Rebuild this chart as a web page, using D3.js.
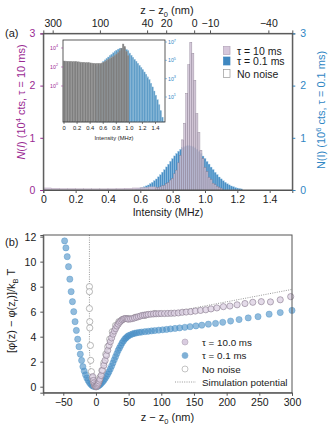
<!DOCTYPE html>
<html><head><meta charset="utf-8">
<script src="https://cdn.jsdelivr.net/npm/d3@7"></script>
<style>body{margin:0;background:#fff}svg{display:block}text{font-family:"Liberation Sans",Arial,sans-serif}</style>
</head><body><svg id="c" width="333" height="437"></svg>
<script>
// ---------------- DATA ----------------
// (a) main histograms, bin width 0.0125 MHz
const binW = 0.0125;
const blueFirstCenter = 0.575;   // tau = 0.1 ms, units 1e6 cts
const blueCounts = [0.022,0.029,0.038,0.047,0.061,0.079,0.096,0.121,0.146,0.178,0.211,0.252,0.292,0.341,0.388,0.442,0.493,0.549,0.600,0.653,0.698,0.741,0.778,0.811,0.831,0.846,0.851,0.844,0.833,0.808,0.781,0.738,0.701,0.650,0.603,0.546,0.496,0.439,0.391,0.338,0.295,0.249,0.213,0.176,0.148,0.119,0.098,0.077,0.063,0.047,0.037,0.028,0.021];
const purpleFirstCenter = 0.70;  // tau = 10 ms, units 1e4 cts
const purpleCounts = [0.04,0.05,0.06,0.08,0.09,0.12,0.14,0.19,0.22,0.31,0.38,0.52,0.66,0.96,1.28,1.85,2.40,2.83,2.62,2.10,1.46,1.10,0.76,0.60,0.43,0.35,0.24,0.20,0.13,0.10,0.07,0.05,0.035];
const purpleLowBinW = 0.05;      // low-intensity plateau, tau = 10 ms
const purpleLowCounts = [0.04,0.035,0.03,0.03,0.028,0.027,0.026,0.026,0.027,0.03,0.035,0.04,0.05,0.06];
// z - z0 (nm) top-axis labels and the intensity (MHz) where they sit
const zTickLabels = ["300","100","40","20","0","\u221210","\u221240"];
const zTickIntensity = [0.058,0.35,0.642,0.76,0.933,1.031,1.392];
const intensityTicks = [0,0.2,0.4,0.6,0.8,1.0,1.2,1.4];
const countTicks = [0,1,2,3];
// inset (log scale), bin width 0.025 MHz, values are log10(counts)
const insetBinW = 0.025;
const insetGrayFirst = 0.0125;
const insetGrayLog = [2.63,2.62,2.61,2.60,2.59,2.58,2.57,2.56,2.55,2.53,2.52,2.50,2.49,2.47,2.46,2.44,2.43,2.41,2.40,2.38,2.37,2.37,2.38,2.42,2.50,2.58,2.68,2.78,2.88,2.99,3.10,3.22,3.36,3.52,3.72,3.98,4.42,4.15,3.65,3.20];
const insetBlueFirst = 0.5125;
const insetBlueLog = [4.3,4.4,4.5,4.7,4.88,5.05,5.2,5.36,5.52,5.67,5.82,5.97,6.1,6.22,6.3,6.33,6.32,6.27,6.18,6.06,5.8,5.55,5.33,5.1,4.9,4.68,4.45,4.22,3.98,3.73,3.48,3.2,2.9,2.5,2.1,1.65,1.2,0.7,0.15,-0.5,-1.2,-1.7];
const insetLeftTicks = [0,2,4];
const insetRightTicks = [1,3,5,7];
// (b) potential
const blueZ = [-48,-46,-44,-42,-40,-38,-36,-34,-32,-30,-28,-26,-24,-22,-20,-18,-16,-14,-12,-10,-8,-6,-4,-2,0,2,4,6,8,10,12,14,16,18,20,22,24,26,28,30,32,34,36,38,40,42,44,46,48,50,53,56,59,62,66,70,75,80,85,90,96,102,108,114,121,128,136,144,153,162,172,183,194,206,219,233,248,265,282,300];
const blueV = [11.66,11.1,10.4,9.6,8.6,7.6,6.8,6.0,5.2,4.5,3.8,3.2,2.6,2.1,1.6,1.25,0.95,0.7,0.5,0.33,0.2,0.1,0.04,0.01,0,0.02,0.07,0.15,0.25,0.37,0.5,0.65,0.82,1.0,1.2,1.42,1.65,1.9,2.15,2.4,2.65,2.9,3.1,3.3,3.5,3.65,3.8,3.9,4.0,4.08,4.15,4.22,4.27,4.3,4.34,4.37,4.4,4.43,4.46,4.49,4.52,4.55,4.58,4.62,4.66,4.7,4.75,4.8,4.86,4.92,5.0,5.06,5.15,5.25,5.37,5.5,5.6,5.8,5.93,6.1];
const purpleZ = [-5,-4,-3,-2,-1,0,1,2,3,4,5,6,8,10,12,14,16,18,20,22,24,26,28,30,32,34,36,38,40,42,44,46,48,50,53,56,59,62,65,68,71,74,77,80,84,88,92,96,100,105,110,115,120,126,132,138,145,152,160,168,176,185,195,205,216,228,240,253,267,282,298];
const purpleV = [0.8,0.5,0.3,0.15,0.05,0,0.03,0.1,0.2,0.3,0.45,0.6,0.9,1.3,1.7,2.1,2.5,2.9,3.3,3.6,3.9,4.2,4.45,4.65,4.85,5.0,5.15,5.25,5.35,5.4,5.45,5.45,5.42,5.4,5.42,5.45,5.5,5.55,5.6,5.65,5.7,5.72,5.75,5.78,5.8,5.82,5.83,5.84,5.85,5.85,5.86,5.87,5.88,5.9,5.95,5.97,6.0,6.05,6.1,6.15,6.22,6.3,6.4,6.45,6.55,6.65,6.75,6.8,6.78,6.95,7.2];
const noNoiseZ = [-10,-10,-10,-9.5,-9.5,-8.5,-8,-7,-5.5,-4,-2.5,-1,0.5,2,4,6,9,12,15,18,21,25,30,35,40,50,60,75,90];
const noNoiseV = [8.0,7.6,6.25,5.2,4.7,3.3,2.1,1.2,0.7,0.35,0.12,0.02,0,0.12,0.4,0.75,1.3,1.9,2.6,3.2,3.8,4.4,4.9,5.2,5.35,5.45,5.55,5.7,5.85];
const simZ = [-10,-10,-9,-7,-5,-3,0,3,6,10,15,20,25,30,35,40,50,300];
const simV = [12.13,3,1.6,0.9,0.45,0.15,0,0.25,0.7,1.5,2.6,3.5,4.2,4.7,5.0,5.2,5.3,7.78];
const zTicks = [-50,0,50,100,150,200,250,300];
const vTicks = [0,2,4,6,8,10,12];

// ---------------- DRAW ----------------
const svg = d3.select("#c");
const purpleCol = "#9a2a93", blueCol = "#2f86c4", axisCol = "#555", txtCol = "#1a1a1a";
const minus = s => String(s).replace("-", "\u2212");

// (a)
const xI = d3.scaleLinear().domain([0, 1.54]).range([43.3, 292.3]);
const yL = d3.scaleLinear().domain([0, 3]).range([190, 33.4]);
const yR = d3.scaleLinear().domain([0, 3]).range([190, 33.4]);

function bars(g, first, w, arr, yS, y0, fill, stroke, sw, op) {
  g.selectAll(null).data(arr).join("rect")
    .attr("x", (d, i) => xI(first + i * w - w / 2))
    .attr("width", (d, i) => xI(first + i * w + w / 2) - xI(first + i * w - w / 2))
    .attr("y", d => yS(d)).attr("height", d => y0 - yS(d))
    .attr("fill", fill).attr("fill-opacity", op).attr("stroke", stroke).attr("stroke-width", sw);
}
const gA = svg.append("g");
bars(gA, blueFirstCenter, binW, blueCounts, yR, 190, "#4a90c6", "#9cc6e4", 0.35, 1);
bars(gA, purpleLowBinW / 2, purpleLowBinW, purpleLowCounts, yL, 190, "#cbbdd1", "#b5a8ba", 0.3, 0.9);
bars(gA, purpleFirstCenter, binW, purpleCounts, yL, 190, "#cdbfd3", "#8a7d91", 0.4, 0.82);

function styleAxis(g, col, tcol) {
  g.select(".domain").attr("stroke", axisCol).attr("stroke-width", 1);
  g.selectAll(".tick line").attr("stroke", col || axisCol);
  g.selectAll(".tick text").attr("fill", tcol || txtCol).attr("font-size", 10.5)
    .attr("font-family", '"Liberation Sans",Arial,sans-serif');
}
const fmtI = d => d === 0 ? "0" : d.toFixed(1);
const fmtInt = d => minus(d3.format("d")(d));
styleAxis(svg.append("g").attr("transform", "translate(0,190)")
  .call(d3.axisBottom(xI).tickValues(intensityTicks).tickFormat(fmtI).tickSize(3).tickPadding(3)));
styleAxis(svg.append("g").attr("transform", "translate(0,33.4)")
  .call(d3.axisTop(xI).tickValues(zTickIntensity).tickFormat((d, i) => zTickLabels[i]).tickSize(3).tickPadding(3)));
styleAxis(svg.append("g").attr("transform", "translate(43.3,0)")
  .call(d3.axisLeft(yL).tickValues(countTicks).tickFormat(fmtInt).tickSize(3).tickPadding(5)), purpleCol, purpleCol);
styleAxis(svg.append("g").attr("transform", "translate(292.3,0)")
  .call(d3.axisRight(yR).tickValues(countTicks).tickFormat(fmtInt).tickSize(3).tickPadding(5)), blueCol, blueCol);

// inset
const xIn = d3.scaleLinear().domain([-0.008, 1.553]).range([63, 165]);
const yInL = d3.scaleLinear().domain([-3.79, 4.84]).range([122, 40]);
const yInR = d3.scaleLinear().domain([-1.73, 7.22]).range([122, 40]);
const gIn = svg.append("g");
gIn.append("rect").attr("x", 63).attr("y", 40).attr("width", 102).attr("height", 82).attr("fill", "#fff");
function ibars(first, arr, yS, fill, stroke) {
  gIn.selectAll(null).data(arr).join("rect")
    .attr("x", (d, i) => xIn(first + i * insetBinW - insetBinW / 2))
    .attr("width", (d, i) => xIn(first + (i + 1) * insetBinW) - xIn(first + i * insetBinW))
    .attr("y", d => yS(d)).attr("height", d => 122 - yS(d))
    .attr("fill", fill).attr("stroke", stroke).attr("stroke-width", 0.35);
}
ibars(insetBlueFirst, insetBlueLog, yInR, "#5e9cc7", "#8fbcdb");
ibars(insetGrayFirst, insetGrayLog, yInL, "#7e7e7e", "#9a9a9a");
gIn.append("rect").attr("x", 63).attr("y", 40).attr("width", 102).attr("height", 82)
  .attr("fill", "none").attr("stroke", "#333").attr("stroke-width", 0.8);
const inAx = gIn.append("g").attr("transform", "translate(0,122)")
  .call(d3.axisBottom(xIn).tickValues(intensityTicks).tickFormat(fmtI).tickSize(2).tickPadding(1.5));
inAx.select(".domain").remove();
inAx.selectAll(".tick line").attr("stroke", "#333").attr("stroke-width", 0.6);
inAx.selectAll(".tick text").attr("font-size", 5.8).attr("fill", txtCol);
gIn.append("text").attr("x", 114).attr("y", 140).attr("text-anchor", "middle")
  .attr("font-size", 5.8).attr("fill", txtCol).text("Intensity (MHz)");
function supLabel(g, x, y, e, col, anchor) {
  const t = g.append("text").attr("x", x).attr("y", y).attr("text-anchor", anchor)
    .attr("font-size", 5.2).attr("fill", col);
  t.append("tspan").text("10");
  t.append("tspan").attr("dy", -2.5).attr("font-size", 3.8).text(e);
}
insetLeftTicks.forEach(e => {
  gIn.append("line").attr("x1", 61).attr("x2", 63).attr("y1", yInL(e)).attr("y2", yInL(e)).attr("stroke", purpleCol).attr("stroke-width", 0.5);
  supLabel(gIn, 58, yInL(e) + 2, e, purpleCol, "end");
});
insetRightTicks.forEach(e => {
  gIn.append("line").attr("x1", 165).attr("x2", 167).attr("y1", yInR(e)).attr("y2", yInR(e)).attr("stroke", blueCol).attr("stroke-width", 0.5);
  supLabel(gIn, 168, yInR(e) + 2, e, blueCol, "start");
});

// frame (a)
svg.append("rect").attr("x", 43.3).attr("y", 33.4).attr("width", 249).attr("height", 156.6)
  .attr("fill", "none").attr("stroke", axisCol).attr("stroke-width", 1);

// legend (a)
const legA = [{t: "\u03c4 = 10 ms", f: "#d6c7db", s: "#b3a3b8"}, {t: "\u03c4 = 0.1 ms", f: "#3f87c0", s: "#3f87c0"}, {t: "No noise", f: "#fff", s: "#999"}];
const legAY = [51, 61.5, 74];
legA.forEach((d, i) => {
  svg.append("rect").attr("x", 223.5).attr("y", legAY[i] - 4.5).attr("width", 6.5).attr("height", 8)
    .attr("fill", d.f).attr("stroke", d.s).attr("stroke-width", 0.7);
  svg.append("text").attr("x", 237).attr("y", legAY[i] + 3.8).attr("font-size", 10.5).attr("fill", txtCol).text(d.t);
});

// labels (a)
svg.append("text").attr("x", 5).attr("y", 37).attr("font-size", 11).attr("fill", txtCol).text("(a)");
const tz = svg.append("text").attr("x", 167).attr("y", 14).attr("text-anchor", "middle").attr("font-size", 11).attr("fill", txtCol);
tz.append("tspan").text("z \u2212 z");
tz.append("tspan").attr("dy", 2.5).attr("font-size", 7.5).text("0");
tz.append("tspan").attr("dy", -2.5).text(" (nm)");
svg.append("text").attr("x", 168).attr("y", 216).attr("text-anchor", "middle").attr("font-size", 10.5).attr("fill", txtCol).text("Intensity (MHz)");
const yl = svg.append("text").attr("transform", "translate(25,102) rotate(-90)").attr("text-anchor", "middle")
  .attr("font-size", 11).attr("fill", purpleCol);
yl.append("tspan").attr("font-style", "italic").text("N");
yl.append("tspan").text("(");
yl.append("tspan").attr("font-style", "italic").text("I");
yl.append("tspan").text(") (10");
yl.append("tspan").attr("dy", -4).attr("font-size", 7.5).text("4");
yl.append("tspan").attr("dy", 4).text(" cts, \u03c4 = 10 ms)");
const yr = svg.append("text").attr("transform", "translate(325,110) rotate(-90)").attr("text-anchor", "middle")
  .attr("font-size", 11).attr("fill", blueCol);
yr.append("tspan").text("N(I) (10");
yr.append("tspan").attr("dy", -4).attr("font-size", 7.5).text("6");
yr.append("tspan").attr("dy", 4).text(" cts, \u03c4 = 0.1 ms)");

// (b)
const xZ = d3.scaleLinear().domain([-80.6, 300]).range([43.3, 292]);
const yP = d3.scaleLinear().domain([-0.48, 12.13]).range([392.7, 235]);
const gB = svg.append("g");
const simLine = d3.line().x((d, i) => xZ(simZ[i])).y((d, i) => yP(simV[i]));
gB.append("path").attr("d", simLine(simZ)).attr("fill", "none").attr("stroke", "#8c8c8c")
  .attr("stroke-width", 0.9).attr("stroke-dasharray", "1,1.3");
function dots(zs, vs, fill, fop, stroke, sw) {
  gB.selectAll(null).data(zs).join("circle")
    .attr("cx", d => xZ(d)).attr("cy", (d, i) => yP(vs[i])).attr("r", 3.1)
    .attr("fill", fill).attr("fill-opacity", fop).attr("stroke", stroke).attr("stroke-width", sw);
}
dots(blueZ, blueV, "#4a90c6", 0.6, "#4a90c6", 0.4);
dots(noNoiseZ, noNoiseV, "#ffffff", 0.8, "#9a9a9a", 0.7);
dots(purpleZ, purpleV, "#d9cce0", 0.7, "#86798c", 0.6);

styleAxis(svg.append("g").attr("transform", "translate(0,392.7)")
  .call(d3.axisBottom(xZ).tickValues(zTicks).tickFormat(fmtInt).tickSize(3).tickPadding(3)));
styleAxis(svg.append("g").attr("transform", "translate(43.3,0)")
  .call(d3.axisLeft(yP).tickValues(vTicks).tickFormat(fmtInt).tickSize(3).tickPadding(4)));
svg.append("rect").attr("x", 43.3).attr("y", 235).attr("width", 248.7).attr("height", 157.7)
  .attr("fill", "none").attr("stroke", axisCol).attr("stroke-width", 1);

// legend (b)
const legB = [{t: "\u03c4 = 10.0 ms", f: "#d9cce0", s: "#b6aabb"}, {t: "\u03c4 = 0.1 ms", f: "#7fb0d6", s: "#7fb0d6"}, {t: "No noise", f: "#fff", s: "#aaa"}];
const legBY = [342, 355.5, 369];
legB.forEach((d, i) => {
  svg.append("circle").attr("cx", 185).attr("cy", legBY[i]).attr("r", 3)
    .attr("fill", d.f).attr("stroke", d.s).attr("stroke-width", 0.7);
  svg.append("text").attr("x", 202).attr("y", legBY[i] + 3.6).attr("font-size", 9.8).attr("fill", txtCol).text(d.t);
});
svg.append("line").attr("x1", 175).attr("x2", 196).attr("y1", 382).attr("y2", 382)
  .attr("stroke", "#8c8c8c").attr("stroke-width", 0.9).attr("stroke-dasharray", "1,1.3");
svg.append("text").attr("x", 202).attr("y", 385.6).attr("font-size", 9.8).attr("fill", txtCol).text("Simulation potential");

// labels (b)
svg.append("text").attr("x", 5).attr("y", 246).attr("font-size", 11).attr("fill", txtCol).text("(b)");
const bx = svg.append("text").attr("x", 167.5).attr("y", 421).attr("text-anchor", "middle").attr("font-size", 11).attr("fill", txtCol);
bx.append("tspan").text("z \u2212 z");
bx.append("tspan").attr("dy", 2.5).attr("font-size", 7.5).text("0");
bx.append("tspan").attr("dy", -2.5).text(" (nm)");
const by = svg.append("text").attr("transform", "translate(15,311) rotate(-90)").attr("text-anchor", "middle")
  .attr("font-size", 11).attr("fill", txtCol);
by.append("tspan").text("[\u03c6(z) \u2212 \u03c6(z");
by.append("tspan").attr("dy", 2.5).attr("font-size", 7.5).text("r");
by.append("tspan").attr("dy", -2.5).text(")]/k");
by.append("tspan").attr("dy", 2.5).attr("font-size", 7.5).text("B");
by.append("tspan").attr("dy", -2.5).text(" T");
</script></body></html>
